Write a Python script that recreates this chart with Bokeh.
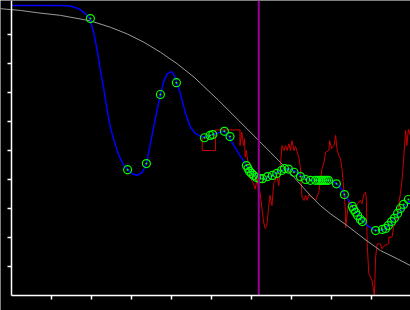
from bokeh.plotting import figure
from bokeh.models import Range1d, FixedTicker
from bokeh.embed import file_html
from bokeh.resources import INLINE

# smooth fitted curve (blue)
fit_x = [0.0, 1.23, 1.48, 1.69, 1.86, 1.97, 2.07, 2.15, 2.23, 2.32, 2.40, 2.48, 2.57, 2.69, 2.82, 2.92,
         3.03, 3.15, 3.28, 3.38, 3.48, 3.61, 3.73, 3.82, 3.90, 4.01, 4.08, 4.14, 4.23, 4.36, 4.48, 4.61,
         4.78, 4.98, 5.23, 5.34, 5.44, 5.57, 5.69, 5.86, 5.98, 6.11, 6.23, 6.36, 6.53, 6.65, 6.82, 6.94,
         7.07, 7.23, 7.40, 7.57, 7.82, 7.98, 8.13, 8.28, 8.33, 8.53, 8.73, 8.90, 9.11, 9.32, 9.48, 9.65,
         9.82, 9.98]
fit_y = [1.0, 1.0, 0.998, 0.989, 0.971, 0.954, 0.902, 0.845, 0.776, 0.707, 0.638, 0.580, 0.534, 0.483,
         0.448, 0.433, 0.420, 0.414, 0.425, 0.454, 0.523, 0.615, 0.692, 0.741, 0.764, 0.772, 0.759, 0.733,
         0.696, 0.627, 0.580, 0.558, 0.546, 0.552, 0.563, 0.567, 0.548, 0.517, 0.489, 0.454, 0.431, 0.414,
         0.406, 0.402, 0.414, 0.425, 0.433, 0.437, 0.431, 0.414, 0.402, 0.397, 0.397, 0.397, 0.387, 0.362,
         0.348, 0.310, 0.270, 0.241, 0.224, 0.227, 0.247, 0.276, 0.304, 0.328]

# sampled points (green)
pts_x = [1.98, 2.91, 3.38, 3.73, 4.13, 4.83, 4.97, 5.04, 5.33, 5.47,
         5.88, 5.92, 5.96, 6.01, 6.06, 6.13, 6.21, 6.28, 6.41, 6.53, 6.64, 6.76, 6.83, 6.93,
         7.07, 7.23, 7.36, 7.48, 7.61, 7.68, 7.73, 7.78, 7.83, 7.88, 7.93,
         8.13, 8.33, 8.53, 8.56, 8.61, 8.66, 8.73, 8.78,
         9.11, 9.28, 9.36, 9.43, 9.51, 9.58, 9.66, 9.73, 9.81, 9.93]
pts_y = [0.955, 0.434, 0.455, 0.693, 0.734, 0.544, 0.552, 0.555, 0.566, 0.548,
         0.448, 0.438, 0.428, 0.421, 0.414, 0.407, 0.403, 0.403, 0.410, 0.414, 0.421, 0.431, 0.438, 0.436,
         0.425, 0.410, 0.400, 0.397, 0.397, 0.397, 0.397, 0.397, 0.397, 0.397, 0.397,
         0.385, 0.348, 0.307, 0.297, 0.287, 0.276, 0.262, 0.255,
         0.224, 0.228, 0.231, 0.241, 0.255, 0.266, 0.283, 0.300, 0.314, 0.331]

# noisy signal (red)
sig_x = [4.775, 4.775, 5.108, 5.108, 5.72, 5.72, 5.765, 5.808, 5.833, 5.85, 5.88, 5.93, 5.98, 6.03, 6.06,
         6.10, 6.15, 6.18, 6.22, 6.27, 6.31, 6.35, 6.39, 6.43, 6.47, 6.52, 6.56, 6.60, 6.64, 6.69, 6.73,
         6.77, 6.82, 6.86, 6.90, 6.94, 6.98, 7.02, 7.07, 7.11, 7.15, 7.19, 7.23, 7.27, 7.32, 7.36, 7.40,
         7.44, 7.52, 7.61, 7.69, 7.77, 7.82, 7.86, 7.94, 7.96, 8.01, 8.07, 8.11, 8.15, 8.19, 8.23, 8.27,
         8.32, 8.36, 8.36, 8.40, 8.44, 8.48, 8.57, 8.63, 8.73, 8.77, 8.82, 8.86, 8.88, 8.90, 8.94, 9.02,
         9.08, 9.11, 9.15, 9.23, 9.27, 9.33, 9.44, 9.44, 9.52, 9.56, 9.61, 9.65, 9.69, 9.73, 9.77, 9.81,
         9.86, 9.89, 9.93, 9.98]
sig_y = [0.552, 0.500, 0.500, 0.571, 0.571, 0.517, 0.563, 0.517, 0.541, 0.477, 0.500, 0.448, 0.414, 0.390,
         0.384, 0.367, 0.403, 0.362, 0.356, 0.299, 0.253, 0.231, 0.241, 0.297, 0.345, 0.310, 0.386, 0.397,
         0.414, 0.379, 0.448, 0.517, 0.500, 0.517, 0.500, 0.523, 0.500, 0.534, 0.500, 0.514, 0.494, 0.477,
         0.441, 0.339, 0.328, 0.345, 0.328, 0.348, 0.339, 0.328, 0.356, 0.437, 0.460, 0.494, 0.500, 0.534,
         0.507, 0.517, 0.552, 0.500, 0.483, 0.472, 0.437, 0.356, 0.287, 0.234, 0.281, 0.328, 0.310, 0.300,
         0.310, 0.328, 0.317, 0.351, 0.356, 0.328, 0.178, 0.075, 0.052, 0.0, 0.132, 0.178, 0.178, 0.161,
         0.172, 0.179, 0.201, 0.201, 0.235, 0.259, 0.270, 0.316, 0.351, 0.397, 0.466, 0.569, 0.517, 0.573,
         0.552]

# reference curve (gray)
ref_x = [-0.27, -0.02, 0.23, 0.65, 1.23, 1.98, 2.48, 2.90, 3.32, 3.73, 4.15, 4.57, 4.73, 5.19, 5.69,
         6.19, 6.48, 6.73, 6.98, 7.23, 7.48, 7.73, 7.98, 8.40, 8.82, 9.23, 9.65, 9.98]
ref_y = [0.989, 0.986, 0.983, 0.975, 0.966, 0.947, 0.925, 0.902, 0.873, 0.839, 0.799, 0.753, 0.732,
         0.672, 0.603, 0.534, 0.494, 0.459, 0.422, 0.383, 0.345, 0.310, 0.282, 0.241, 0.196, 0.155,
         0.127, 0.103]

# vertical marker
marker_x = 6.19
marker_y0, marker_y1 = 0.0, 1.0172

x_ticks = [1, 2, 3, 4, 5, 6, 7, 8, 9]
y_ticks = [0.1, 0.2, 0.3, 0.4, 0.5, 0.6, 0.7, 0.8, 0.9]

p = figure(width=410, height=310, output_backend="svg", toolbar_location=None,
           x_range=Range1d(-0.2675, 9.9825), y_range=Range1d(-0.0517, 1.0172),
           min_border=0, background_fill_color="black", border_fill_color="black",
           outline_line_color=None)
p.grid.visible = False

for ax, ticks, b in ((p.xaxis[0], x_ticks, (0, 9.9825)), (p.yaxis[0], y_ticks, (0, 1.0172))):
    ax.fixed_location = 0
    ax.bounds = b
    ax.ticker = FixedTicker(ticks=ticks)
    ax.axis_line_color = "white"
    ax.axis_line_width = 1.5
    ax.major_tick_line_color = "white"
    ax.major_tick_line_width = 1.5
    ax.major_tick_in = 0
    ax.major_tick_out = 4
    ax.minor_tick_line_color = None
    ax.major_label_text_font_size = "0px"
    ax.major_label_text_alpha = 0

p.line(sig_x, sig_y, line_color="#cc0000", line_width=1)
p.line(ref_x, ref_y, line_color="#9a9a9a", line_width=1)
p.line(fit_x, fit_y, line_color="#0000ff", line_width=1.5)
p.scatter(pts_x, pts_y, marker="circle_dot", size=8, line_color="#00ff00",
          fill_color=None, line_width=1.2)
p.segment(x0=[marker_x], y0=[marker_y0], x1=[marker_x], y1=[marker_y1],
          line_color="#990099", line_width=2)

open("out.html", "w").write(file_html(p, INLINE))
